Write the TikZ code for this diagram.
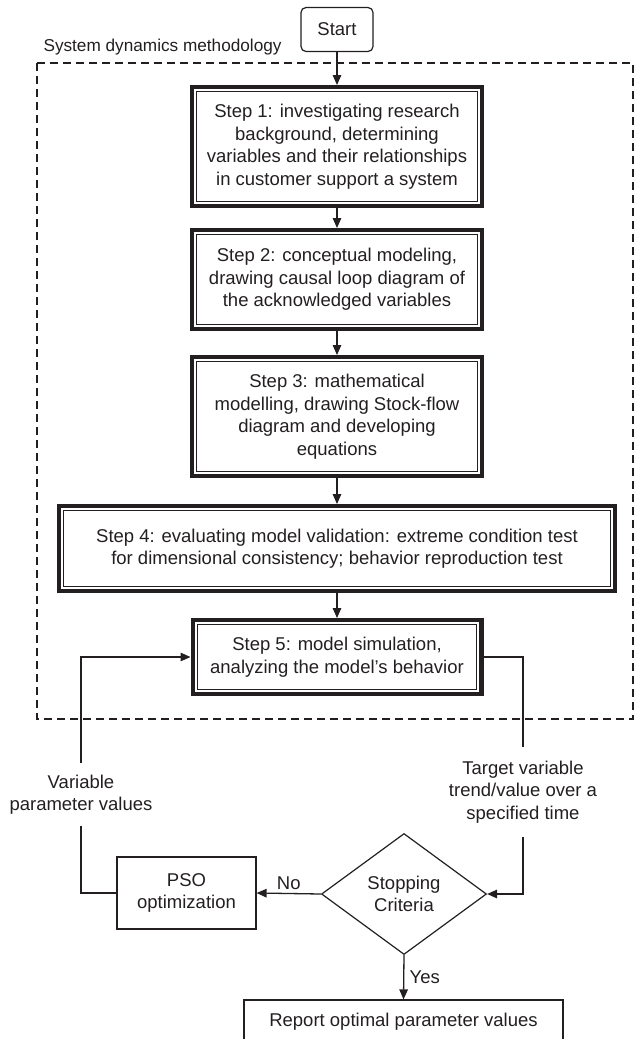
\documentclass[tikz,border=0pt]{standalone}
\usepackage{fontspec}
\setmainfont{Liberation Sans}
\usetikzlibrary{arrows.meta,shapes.geometric}

\definecolor{ink}{RGB}{35,31,32}

\tikzset{
  every node/.style={font=\fontsize{18.5}{22.5}\selectfont, text=ink},
  stepbox/.style={draw=ink, line width=4.3pt, align=center, inner sep=0pt},
  plainbox/.style={draw=ink, line width=1.2pt, align=center, inner sep=0pt},
  decision/.style={diamond, draw=ink, line width=1.2pt, align=center, inner sep=0pt, aspect=1.36},
  flow/.style={draw=ink, line width=1.3pt, -{Triangle[length=10pt,width=8.5pt]}},
  link/.style={draw=ink, line width=1.2pt},
  frame/.style={draw=ink, line width=1.5pt, dash pattern=on 8pt off 5pt}
}

\begin{document}
\begin{tikzpicture}[x=1pt,y=-1pt]
            \useasboundingbox (0,0) rectangle (634,1039);
            \clip (0,0) rectangle (634,1039);
            % system dynamics part
            \draw[frame] (37,63) rectangle (633,719);
            \node[anchor=west, font=\fontsize{17.2}{21}\selectfont] (sdm) at (40,47) {System dynamics methodology};
            \node[plainbox, rounded corners=5pt, minimum width=72pt, minimum height=44pt] (start) at (337,29.5) {Start};
            \node[stepbox, minimum width=289.7pt, minimum height=118.7pt] (s1) at (337,146.5)
                {Step 1: investigating research\\background, determining\\variables and their relationships\\in customer support a system};
            \node[stepbox, minimum width=289.7pt, minimum height=98.7pt] (s2) at (337,279.5)
                {Step 2: conceptual modeling,\\drawing causal loop diagram of\\the acknowledged variables};
            \node[stepbox, minimum width=289.7pt, minimum height=118.7pt] (s3) at (337,416.5)
                {Step 3: mathematical\\modelling, drawing Stock-flow\\diagram and developing\\equations};
            \node[stepbox, minimum width=555.7pt, minimum height=84.7pt] (s4) at (337,548.5)
                {Step 4: evaluating model validation: extreme condition test\\for dimensional consistency; behavior reproduction test};
            \node[stepbox, minimum width=288.7pt, minimum height=73.7pt] (s5) at (337,657)
                {Step 5: model simulation,\\analyzing the model’s behavior};
            \foreach \n in {s1,s2,s3,s4,s5}
                \draw[ink, line width=1.2pt] ([shift={(6.8pt,-6.8pt)}]\n.north west)
                    rectangle ([shift={(-6.8pt,6.8pt)}]\n.south east);
            \draw[flow] (start) -- (s1);
            \draw[flow] (s1) -- (s2);
            \draw[flow] (s2) -- (s3);
            \draw[flow] (s3) -- (s4);
            \draw[flow] (s4) -- (s5);
            % optimization loop
            \node[minimum height=63pt, inner sep=0pt, align=center] (vpv) at (81,794.5) {Variable\\parameter values};
            \node[minimum height=90pt, inner sep=0pt, align=center] (tvt) at (523,792) {Target variable\\trend/value over a\\specified time};
            \node[decision, minimum width=165pt, minimum height=121pt] (crit) at (404,894) {Stopping\\Criteria};
            \node[plainbox, minimum width=139pt, minimum height=72pt] (pso) at (186.5,893) {PSO\\optimization};
            \node[plainbox, minimum width=319pt, minimum height=44pt] (report) at (403.5,1022) {Report optimal parameter values};
            \draw[link] (s5.east) -| (tvt.north);
            \draw[flow] (tvt.south) |- (crit.east);
            \draw[flow] (crit.west) -- (pso.east) node[midway, above] {No};
            \draw[flow] (crit.south) -- (report.north) node[midway, right, xshift=2pt] {Yes};
            \draw[link] (pso.west) -| (vpv.south);
            \draw[flow] (vpv.north) |- (s5.west);
\end{tikzpicture}
\end{document}
